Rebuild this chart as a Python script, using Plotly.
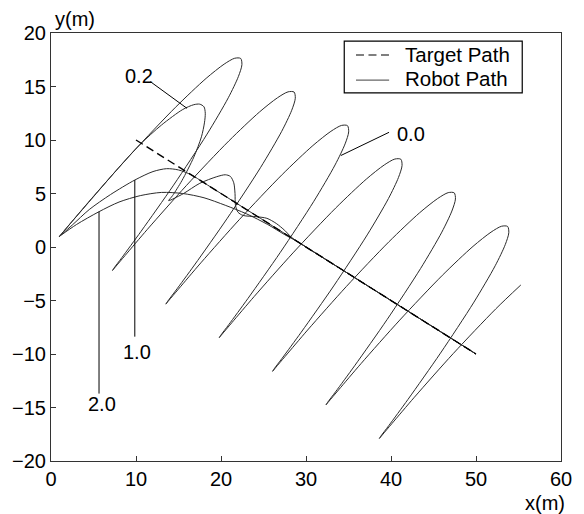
import plotly.graph_objects as go

# Target path: straight segment the robots are asked to follow
target_x = [10, 50]
target_y = [10, -10]

# Robot path, gain 0.0 (never settles, keeps looping around the target)
path00_x = [
    0.95, 1.28, 2.43, 5.07, 9.63, 14.65, 18.25, 20.37, 21.61, 22.32, 22.46, 22.04, 20.86, 18.36, 14.42, 10.60, 8.35, 7.41,
    7.23, 7.56, 8.71, 11.35, 15.91, 20.93, 24.53, 26.65, 27.89, 28.60, 28.74, 28.32, 27.14, 24.64, 20.70, 16.88, 14.63, 13.69,
    13.51, 13.84, 14.99, 17.63, 22.19, 27.21, 30.81, 32.93, 34.17, 34.88, 35.02, 34.60, 33.42, 30.92, 26.98, 23.16, 20.91, 19.97,
    19.79, 20.12, 21.27, 23.91, 28.47, 33.49, 37.09, 39.21, 40.45, 41.16, 41.30, 40.88, 39.70, 37.20, 33.26, 29.44, 27.19, 26.25,
    26.07, 26.40, 27.55, 30.19, 34.75, 39.77, 43.37, 45.49, 46.73, 47.44, 47.58, 47.16, 45.98, 43.48, 39.54, 35.72, 33.47, 32.53,
    32.35, 32.68, 33.83, 36.47, 41.03, 46.05, 49.65, 51.77, 53.01, 53.72, 53.86, 53.44, 52.26, 49.76, 45.82, 42.00, 39.75, 38.81,
    38.63, 38.96, 40.11, 42.75, 47.31, 52.33, 55.27,
]
path00_y = [
    0.94, 1.26, 2.35, 4.80, 8.87, 13.06, 15.76, 17.09, 17.64, 17.62, 17.04, 15.92, 13.95, 10.55, 5.78, 1.47, -0.98, -1.97,
    -2.20, -1.88, -0.80, 1.66, 5.73, 9.92, 12.62, 13.95, 14.50, 14.48, 13.90, 12.78, 10.81, 7.41, 2.64, -1.68, -4.12, -5.11,
    -5.34, -5.02, -3.94, -1.48, 2.59, 6.78, 9.48, 10.81, 11.36, 11.34, 10.76, 9.64, 7.67, 4.27, -0.50, -4.82, -7.26, -8.25,
    -8.48, -8.16, -7.08, -4.62, -0.55, 3.64, 6.34, 7.67, 8.22, 8.20, 7.62, 6.50, 4.53, 1.13, -3.64, -7.96, -10.40, -11.39,
    -11.62, -11.30, -10.22, -7.76, -3.69, 0.50, 3.20, 4.53, 5.08, 5.06, 4.48, 3.36, 1.39, -2.01, -6.78, -11.10, -13.54, -14.53,
    -14.76, -14.44, -13.36, -10.90, -6.83, -2.64, 0.06, 1.39, 1.94, 1.92, 1.34, 0.22, -1.75, -5.15, -9.92, -14.24, -16.68, -17.67,
    -17.90, -17.58, -16.50, -14.04, -9.97, -5.78, -3.55,
]

# Robot path, gain 0.2 (one loop, two wiggles, then locks on)
path02_x = [1.0, 2.5, 5.0, 8.0, 10.5, 13.0, 15.5, 16.8, 17.5, 18.0, 18.15, 18.05, 17.7, 16.8, 15.4, 14.3, 13.84,
            14.5, 15.6, 17.5, 19.5, 20.5, 21.1, 21.5, 21.65, 21.7, 22.0, 22.6, 24.2, 25.4, 26.5, 27.5, 28.3, 29.5,
            35.0, 40.0, 50.0]
path02_y = [1.0, 2.4, 4.7, 7.45, 9.6, 11.4, 12.85, 13.3, 13.35, 13.1, 12.5, 11.6, 10.3, 8.4, 6.2, 4.8, 4.33,
            4.55, 5.0, 5.95, 6.57, 6.75, 6.6, 6.0, 5.0, 3.9, 3.25, 2.95, 2.83, 2.68, 2.2, 1.55, 0.9, 0.25,
            -2.5, -5.0, -10.0]

# Robot path, gain 1.0
path10_x = [1.0, 2.5, 4.5, 7.0, 9.86, 12.0, 13.6, 15.0, 16.5, 18.0, 20.0, 30.0, 40.0, 50.0]
path10_y = [1.0, 2.05, 3.5, 4.9, 6.26, 7.05, 7.32, 7.2, 6.75, 6.0, 5.0, 0.0, -5.0, -10.0]

# Robot path, gain 2.0
path20_x = [1.0, 3.0, 5.65, 8.0, 10.5, 13.0, 15.5, 18.0, 20.5, 23.0, 25.5, 27.5, 29.0, 31.0, 40.0, 50.0]
path20_y = [1.0, 2.1, 3.3, 4.2, 4.8, 5.1, 5.0, 4.6, 3.9, 3.1, 2.1, 1.15, 0.5, -0.5, -5.0, -10.0]

# Gain labels: text, text position, leader line start and end
gain_labels = ["0.2", "0.0", "1.0", "2.0"]
label_x = [10.4, 42.3, 10.1, 5.97]
label_y = [16.0, 10.56, -9.8, -14.7]
leader_x0 = [11.7, 39.77, 9.86, 5.65]
leader_y0 = [15.45, 10.72, -8.38, -13.7]
leader_x1 = [16.0, 34.1, 9.86, 5.65]
leader_y1 = [12.96, 8.55, 6.26, 3.3]

# Legend entries
legend_names = ["Target Path", "Robot Path"]

ROBOT = "#2b2b2b"
DASH = "8px,4.5px"
FONT = "Liberation Sans, Arial, Helvetica, sans-serif"

fig = go.Figure()

robot_paths = [(path00_x, path00_y), (path02_x, path02_y), (path10_x, path10_y), (path20_x, path20_y)]
for px, py in robot_paths:
    fig.add_trace(go.Scatter(
        x=px, y=py, mode="lines",
        line=dict(color=ROBOT, width=1, shape="spline", smoothing=0.8),
        name=legend_names[1], showlegend=False, hoverinfo="skip",
    ))

fig.add_trace(go.Scatter(
    x=target_x, y=target_y, mode="lines",
    line=dict(color="black", width=1.4, dash=DASH),
    name=legend_names[0], showlegend=False,
))

for t, lx, ly, x0, y0, x1, y1 in zip(gain_labels, label_x, label_y, leader_x0, leader_y0, leader_x1, leader_y1):
    fig.add_shape(type="line", x0=x0, y0=y0, x1=x1, y1=y1, xref="x", yref="y",
                  line=dict(color="black", width=1))
    fig.add_annotation(x=lx, y=ly, text=t, showarrow=False, xref="x", yref="y",
                       xanchor="center", yanchor="middle",
                       font=dict(family=FONT, size=20, color="black"))

# Boxed legend in the upper right corner of the plot area
fig.add_shape(type="rect", xref="paper", yref="paper", x0=0.575, x1=0.924, y0=0.860, y1=0.981,
              line=dict(color="black", width=1.2), fillcolor="white", layer="above")
fig.add_shape(type="line", xref="paper", yref="paper", x0=0.598, x1=0.663, y0=0.9486, y1=0.9486,
              line=dict(color="black", width=1.2, dash=DASH), layer="above")
fig.add_shape(type="line", xref="paper", yref="paper", x0=0.598, x1=0.663, y0=0.890, y1=0.890,
              line=dict(color="#666666", width=1.4), layer="above")
for name, ly in zip(legend_names, [0.9486, 0.893]):
    fig.add_annotation(text=name, xref="paper", yref="paper", x=0.690, y=ly,
                       xanchor="left", yanchor="middle", showarrow=False,
                       font=dict(family=FONT, size=20.5, color="black"))

fig.add_annotation(text="y(m)", xref="paper", yref="paper", x=0.048, y=1.033,
                   xanchor="center", yanchor="middle",
                   showarrow=False, font=dict(family=FONT, size=20, color="black"))
fig.add_annotation(text="x(m)", xref="paper", yref="paper", x=0.969, y=-0.098,
                   xanchor="center", yanchor="middle",
                   showarrow=False, font=dict(family=FONT, size=20, color="black"))

axis_common = dict(
    showgrid=False, zeroline=False, showline=True, linecolor="#333333", linewidth=1,
    mirror=True, ticks="inside", ticklen=5, tickcolor="#333333",
    tickfont=dict(family=FONT, size=20, color="black"),
)
fig.update_xaxes(range=[0, 60], tick0=0, dtick=10, **axis_common)
fig.update_yaxes(range=[-20, 20], tick0=-20, dtick=5, **axis_common)

fig.update_layout(
    width=584, height=514,
    margin=dict(l=50, r=21, t=33, b=53),
    paper_bgcolor="white", plot_bgcolor="white",
    showlegend=False,
    font=dict(family=FONT),
)

fig.write_html("out.html")
